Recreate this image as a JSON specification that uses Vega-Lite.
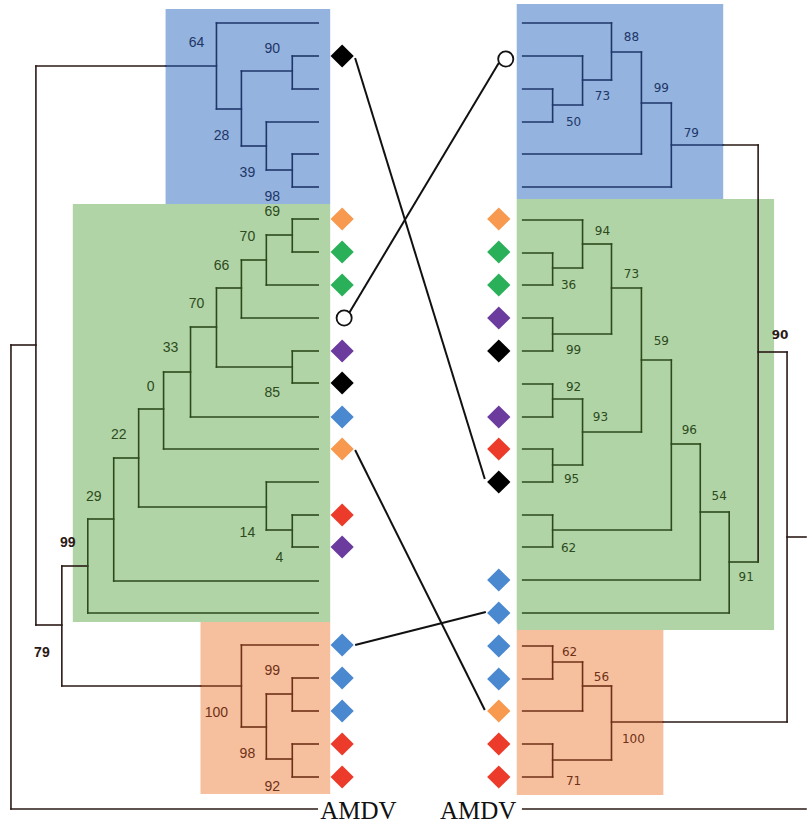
{
  "$schema": "https://vega.github.io/schema/vega-lite/v6.json",
  "width": 808,
  "height": 827,
  "autosize": {"type": "fit", "contains": "padding"},
  "padding": 0,
  "background": "white",
  "config": {"view": {"stroke": null}},
  "datasets": {
    "boxes": [
      {"x": 166, "x2": 331, "y": 9, "y2": 204, "k": "boxB"},
      {"x": 73, "x2": 331, "y": 204, "y2": 622, "k": "boxG"},
      {"x": 201, "x2": 331, "y": 622, "y2": 794, "k": "boxO"},
      {"x": 518, "x2": 725, "y": 4, "y2": 199, "k": "boxB"},
      {"x": 518, "x2": 776, "y": 199, "y2": 630, "k": "boxG"},
      {"x": 518, "x2": 665, "y": 630, "y2": 795, "k": "boxO"}
    ],
    "segs": [
      {"x": 11, "y": 345, "x2": 11, "y2": 809, "k": "K"},
      {"x": 11, "y": 809, "x2": 318, "y2": 809, "k": "K"},
      {"x": 11, "y": 345, "x2": 36, "y2": 345, "k": "K"},
      {"x": 36, "y": 66, "x2": 36, "y2": 625, "k": "K"},
      {"x": 36, "y": 66, "x2": 166, "y2": 66, "k": "K"},
      {"x": 166, "y": 66, "x2": 217, "y2": 66, "k": "B"},
      {"x": 36, "y": 625, "x2": 62, "y2": 625, "k": "K"},
      {"x": 62, "y": 566, "x2": 62, "y2": 686, "k": "K"},
      {"x": 62, "y": 566, "x2": 88, "y2": 566, "k": "K"},
      {"x": 62, "y": 686, "x2": 201, "y2": 686, "k": "K"},
      {"x": 201, "y": 686, "x2": 242, "y2": 686, "k": "O"},

      {"x": 217, "y": 23, "x2": 217, "y2": 109, "k": "B"},
      {"x": 217, "y": 23, "x2": 319, "y2": 23, "k": "B"},
      {"x": 217, "y": 109, "x2": 242, "y2": 109, "k": "B"},
      {"x": 242, "y": 71, "x2": 242, "y2": 146, "k": "B"},
      {"x": 242, "y": 71, "x2": 293, "y2": 71, "k": "B"},
      {"x": 293, "y": 56, "x2": 293, "y2": 89, "k": "B"},
      {"x": 293, "y": 56, "x2": 319, "y2": 56, "k": "B"},
      {"x": 293, "y": 89, "x2": 319, "y2": 89, "k": "B"},
      {"x": 242, "y": 146, "x2": 267, "y2": 146, "k": "B"},
      {"x": 267, "y": 122, "x2": 267, "y2": 170, "k": "B"},
      {"x": 267, "y": 122, "x2": 319, "y2": 122, "k": "B"},
      {"x": 267, "y": 170, "x2": 293, "y2": 170, "k": "B"},
      {"x": 293, "y": 154, "x2": 293, "y2": 187, "k": "B"},
      {"x": 293, "y": 154, "x2": 319, "y2": 154, "k": "B"},
      {"x": 293, "y": 187, "x2": 319, "y2": 187, "k": "B"},

      {"x": 88, "y": 519, "x2": 88, "y2": 613, "k": "G"},
      {"x": 88, "y": 613, "x2": 319, "y2": 613, "k": "G"},
      {"x": 88, "y": 519, "x2": 114, "y2": 519, "k": "G"},
      {"x": 114, "y": 458, "x2": 114, "y2": 581, "k": "G"},
      {"x": 114, "y": 581, "x2": 319, "y2": 581, "k": "G"},
      {"x": 114, "y": 458, "x2": 139, "y2": 458, "k": "G"},
      {"x": 139, "y": 409, "x2": 139, "y2": 507, "k": "G"},
      {"x": 139, "y": 409, "x2": 164, "y2": 409, "k": "G"},
      {"x": 164, "y": 372, "x2": 164, "y2": 449, "k": "G"},
      {"x": 164, "y": 449, "x2": 319, "y2": 449, "k": "G"},
      {"x": 164, "y": 372, "x2": 191, "y2": 372, "k": "G"},
      {"x": 191, "y": 327, "x2": 191, "y2": 417, "k": "G"},
      {"x": 191, "y": 417, "x2": 319, "y2": 417, "k": "G"},
      {"x": 191, "y": 327, "x2": 217, "y2": 327, "k": "G"},
      {"x": 217, "y": 288, "x2": 217, "y2": 367, "k": "G"},
      {"x": 217, "y": 367, "x2": 293, "y2": 367, "k": "G"},
      {"x": 293, "y": 351, "x2": 293, "y2": 383, "k": "G"},
      {"x": 293, "y": 351, "x2": 319, "y2": 351, "k": "G"},
      {"x": 293, "y": 383, "x2": 319, "y2": 383, "k": "G"},
      {"x": 217, "y": 288, "x2": 242, "y2": 288, "k": "G"},
      {"x": 242, "y": 260, "x2": 242, "y2": 318, "k": "G"},
      {"x": 242, "y": 318, "x2": 319, "y2": 318, "k": "G"},
      {"x": 242, "y": 260, "x2": 267, "y2": 260, "k": "G"},
      {"x": 267, "y": 235, "x2": 267, "y2": 285, "k": "G"},
      {"x": 267, "y": 285, "x2": 319, "y2": 285, "k": "G"},
      {"x": 267, "y": 235, "x2": 293, "y2": 235, "k": "G"},
      {"x": 293, "y": 219, "x2": 293, "y2": 252, "k": "G"},
      {"x": 293, "y": 219, "x2": 319, "y2": 219, "k": "G"},
      {"x": 293, "y": 252, "x2": 319, "y2": 252, "k": "G"},
      {"x": 139, "y": 507, "x2": 267, "y2": 507, "k": "G"},
      {"x": 267, "y": 482, "x2": 267, "y2": 530, "k": "G"},
      {"x": 267, "y": 482, "x2": 319, "y2": 482, "k": "G"},
      {"x": 267, "y": 530, "x2": 293, "y2": 530, "k": "G"},
      {"x": 293, "y": 515, "x2": 293, "y2": 547, "k": "G"},
      {"x": 293, "y": 515, "x2": 319, "y2": 515, "k": "G"},
      {"x": 293, "y": 547, "x2": 319, "y2": 547, "k": "G"},

      {"x": 242, "y": 645, "x2": 242, "y2": 727, "k": "O"},
      {"x": 242, "y": 645, "x2": 319, "y2": 645, "k": "O"},
      {"x": 242, "y": 727, "x2": 267, "y2": 727, "k": "O"},
      {"x": 267, "y": 694, "x2": 267, "y2": 759, "k": "O"},
      {"x": 267, "y": 694, "x2": 293, "y2": 694, "k": "O"},
      {"x": 293, "y": 678, "x2": 293, "y2": 711, "k": "O"},
      {"x": 293, "y": 678, "x2": 319, "y2": 678, "k": "O"},
      {"x": 293, "y": 711, "x2": 319, "y2": 711, "k": "O"},
      {"x": 267, "y": 759, "x2": 293, "y2": 759, "k": "O"},
      {"x": 293, "y": 744, "x2": 293, "y2": 777, "k": "O"},
      {"x": 293, "y": 744, "x2": 319, "y2": 744, "k": "O"},
      {"x": 293, "y": 777, "x2": 319, "y2": 777, "k": "O"},

      {"x": 524, "y": 809, "x2": 808, "y2": 809, "k": "K"},
      {"x": 725, "y": 145, "x2": 760, "y2": 145, "k": "K"},
      {"x": 760, "y": 145, "x2": 760, "y2": 562, "k": "K"},
      {"x": 760, "y": 352, "x2": 789, "y2": 352, "k": "K"},
      {"x": 789, "y": 352, "x2": 789, "y2": 722, "k": "K"},
      {"x": 789, "y": 537, "x2": 808, "y2": 537, "k": "K"},
      {"x": 665, "y": 722, "x2": 789, "y2": 722, "k": "K"},

      {"x": 524, "y": 23, "x2": 613, "y2": 23, "k": "B"},
      {"x": 613, "y": 23, "x2": 613, "y2": 80, "k": "B"},
      {"x": 524, "y": 56, "x2": 584, "y2": 56, "k": "B"},
      {"x": 584, "y": 56, "x2": 584, "y2": 105, "k": "B"},
      {"x": 524, "y": 89, "x2": 554, "y2": 89, "k": "B"},
      {"x": 524, "y": 122, "x2": 554, "y2": 122, "k": "B"},
      {"x": 554, "y": 89, "x2": 554, "y2": 122, "k": "B"},
      {"x": 554, "y": 105, "x2": 584, "y2": 105, "k": "B"},
      {"x": 584, "y": 80, "x2": 613, "y2": 80, "k": "B"},
      {"x": 613, "y": 52, "x2": 643, "y2": 52, "k": "B"},
      {"x": 643, "y": 52, "x2": 643, "y2": 154, "k": "B"},
      {"x": 524, "y": 154, "x2": 643, "y2": 154, "k": "B"},
      {"x": 643, "y": 103, "x2": 673, "y2": 103, "k": "B"},
      {"x": 673, "y": 103, "x2": 673, "y2": 187, "k": "B"},
      {"x": 524, "y": 187, "x2": 673, "y2": 187, "k": "B"},
      {"x": 673, "y": 145, "x2": 725, "y2": 145, "k": "B"},

      {"x": 524, "y": 220, "x2": 584, "y2": 220, "k": "G"},
      {"x": 584, "y": 220, "x2": 584, "y2": 268, "k": "G"},
      {"x": 524, "y": 253, "x2": 554, "y2": 253, "k": "G"},
      {"x": 524, "y": 285, "x2": 554, "y2": 285, "k": "G"},
      {"x": 554, "y": 253, "x2": 554, "y2": 285, "k": "G"},
      {"x": 554, "y": 268, "x2": 584, "y2": 268, "k": "G"},
      {"x": 584, "y": 244, "x2": 613, "y2": 244, "k": "G"},
      {"x": 613, "y": 244, "x2": 613, "y2": 334, "k": "G"},
      {"x": 524, "y": 318, "x2": 554, "y2": 318, "k": "G"},
      {"x": 524, "y": 351, "x2": 554, "y2": 351, "k": "G"},
      {"x": 554, "y": 318, "x2": 554, "y2": 351, "k": "G"},
      {"x": 554, "y": 334, "x2": 613, "y2": 334, "k": "G"},
      {"x": 613, "y": 288, "x2": 643, "y2": 288, "k": "G"},
      {"x": 643, "y": 288, "x2": 643, "y2": 432, "k": "G"},
      {"x": 524, "y": 384, "x2": 554, "y2": 384, "k": "G"},
      {"x": 524, "y": 417, "x2": 554, "y2": 417, "k": "G"},
      {"x": 554, "y": 384, "x2": 554, "y2": 417, "k": "G"},
      {"x": 554, "y": 399, "x2": 584, "y2": 399, "k": "G"},
      {"x": 584, "y": 399, "x2": 584, "y2": 465, "k": "G"},
      {"x": 524, "y": 449, "x2": 554, "y2": 449, "k": "G"},
      {"x": 524, "y": 482, "x2": 554, "y2": 482, "k": "G"},
      {"x": 554, "y": 449, "x2": 554, "y2": 482, "k": "G"},
      {"x": 554, "y": 465, "x2": 584, "y2": 465, "k": "G"},
      {"x": 584, "y": 432, "x2": 643, "y2": 432, "k": "G"},
      {"x": 643, "y": 360, "x2": 673, "y2": 360, "k": "G"},
      {"x": 673, "y": 360, "x2": 673, "y2": 530, "k": "G"},
      {"x": 524, "y": 515, "x2": 554, "y2": 515, "k": "G"},
      {"x": 524, "y": 547, "x2": 554, "y2": 547, "k": "G"},
      {"x": 554, "y": 515, "x2": 554, "y2": 547, "k": "G"},
      {"x": 554, "y": 530, "x2": 673, "y2": 530, "k": "G"},
      {"x": 673, "y": 444, "x2": 702, "y2": 444, "k": "G"},
      {"x": 702, "y": 444, "x2": 702, "y2": 580, "k": "G"},
      {"x": 524, "y": 580, "x2": 702, "y2": 580, "k": "G"},
      {"x": 702, "y": 512, "x2": 731, "y2": 512, "k": "G"},
      {"x": 731, "y": 512, "x2": 731, "y2": 613, "k": "G"},
      {"x": 524, "y": 613, "x2": 731, "y2": 613, "k": "G"},
      {"x": 731, "y": 562, "x2": 760, "y2": 562, "k": "G"},

      {"x": 524, "y": 646, "x2": 554, "y2": 646, "k": "O"},
      {"x": 524, "y": 679, "x2": 554, "y2": 679, "k": "O"},
      {"x": 554, "y": 646, "x2": 554, "y2": 679, "k": "O"},
      {"x": 554, "y": 662, "x2": 584, "y2": 662, "k": "O"},
      {"x": 584, "y": 662, "x2": 584, "y2": 711, "k": "O"},
      {"x": 524, "y": 711, "x2": 584, "y2": 711, "k": "O"},
      {"x": 584, "y": 686, "x2": 613, "y2": 686, "k": "O"},
      {"x": 613, "y": 686, "x2": 613, "y2": 760, "k": "O"},
      {"x": 524, "y": 744, "x2": 554, "y2": 744, "k": "O"},
      {"x": 524, "y": 777, "x2": 554, "y2": 777, "k": "O"},
      {"x": 554, "y": 744, "x2": 554, "y2": 777, "k": "O"},
      {"x": 554, "y": 760, "x2": 613, "y2": 760, "k": "O"},
      {"x": 613, "y": 722, "x2": 665, "y2": 722, "k": "O"}
    ],
    "links": [
      {"x": 356, "y": 58, "x2": 486, "y2": 479},
      {"x": 350, "y": 313, "x2": 500, "y2": 63},
      {"x": 356, "y": 450, "x2": 486, "y2": 710},
      {"x": 356, "y": 645, "x2": 487, "y2": 612}
    ],
    "tips": [
      {"x": 343, "y": 56, "k": "black"},
      {"x": 343, "y": 219, "k": "orange"},
      {"x": 343, "y": 252, "k": "green"},
      {"x": 343, "y": 285, "k": "green"},
      {"x": 343, "y": 351, "k": "purple"},
      {"x": 343, "y": 383, "k": "black"},
      {"x": 343, "y": 417, "k": "blue"},
      {"x": 343, "y": 449, "k": "orange"},
      {"x": 343, "y": 515, "k": "red"},
      {"x": 343, "y": 547, "k": "purple"},
      {"x": 343, "y": 645, "k": "blue"},
      {"x": 343, "y": 678, "k": "blue"},
      {"x": 343, "y": 711, "k": "blue"},
      {"x": 343, "y": 744, "k": "red"},
      {"x": 343, "y": 777, "k": "red"},
      {"x": 500, "y": 219, "k": "orange"},
      {"x": 500, "y": 252, "k": "green"},
      {"x": 500, "y": 285, "k": "green"},
      {"x": 500, "y": 318, "k": "purple"},
      {"x": 500, "y": 351, "k": "black"},
      {"x": 500, "y": 417, "k": "purple"},
      {"x": 500, "y": 449, "k": "red"},
      {"x": 500, "y": 482, "k": "black"},
      {"x": 500, "y": 580, "k": "blue"},
      {"x": 500, "y": 613, "k": "blue"},
      {"x": 500, "y": 646, "k": "blue"},
      {"x": 500, "y": 679, "k": "blue"},
      {"x": 500, "y": 711, "k": "orange"},
      {"x": 500, "y": 744, "k": "red"},
      {"x": 500, "y": 777, "k": "red"}
    ],
    "circles": [
      {"x": 345, "y": 318},
      {"x": 507, "y": 59}
    ],
    "labelsL": [
      {"x": 197, "y": 43, "t": "64", "k": "B"},
      {"x": 273, "y": 49, "t": "90", "k": "B"},
      {"x": 222, "y": 136, "t": "28", "k": "B"},
      {"x": 248, "y": 173, "t": "39", "k": "B"},
      {"x": 273, "y": 197, "t": "98", "k": "B"},
      {"x": 273, "y": 212, "t": "69", "k": "G"},
      {"x": 248, "y": 237, "t": "70", "k": "G"},
      {"x": 222, "y": 266, "t": "66", "k": "G"},
      {"x": 197, "y": 304, "t": "70", "k": "G"},
      {"x": 171, "y": 348, "t": "33", "k": "G"},
      {"x": 151, "y": 387, "t": "0", "k": "G"},
      {"x": 273, "y": 393, "t": "85", "k": "G"},
      {"x": 119, "y": 435, "t": "22", "k": "G"},
      {"x": 94, "y": 497, "t": "29", "k": "G"},
      {"x": 248, "y": 533, "t": "14", "k": "G"},
      {"x": 280, "y": 558, "t": "4", "k": "G"},
      {"x": 68, "y": 543, "t": "99", "k": "K"},
      {"x": 42, "y": 653, "t": "79", "k": "K"},
      {"x": 273, "y": 671, "t": "99", "k": "O"},
      {"x": 217, "y": 713, "t": "100", "k": "O"},
      {"x": 248, "y": 754, "t": "98", "k": "O"},
      {"x": 273, "y": 787, "t": "92", "k": "O"}
    ],
    "labelsR": [
      {"x": 633, "y": 37, "t": "88", "k": "B"},
      {"x": 604, "y": 96, "t": "73", "k": "B"},
      {"x": 575, "y": 122, "t": "50", "k": "B"},
      {"x": 663, "y": 88, "t": "99", "k": "B"},
      {"x": 693, "y": 133, "t": "79", "k": "B"},
      {"x": 604, "y": 231, "t": "94", "k": "G"},
      {"x": 570, "y": 285, "t": "36", "k": "G"},
      {"x": 633, "y": 274, "t": "73", "k": "G"},
      {"x": 575, "y": 350, "t": "99", "k": "G"},
      {"x": 663, "y": 341, "t": "59", "k": "G"},
      {"x": 575, "y": 387, "t": "92", "k": "G"},
      {"x": 602, "y": 417, "t": "93", "k": "G"},
      {"x": 573, "y": 479, "t": "95", "k": "G"},
      {"x": 691, "y": 430, "t": "96", "k": "G"},
      {"x": 570, "y": 548, "t": "62", "k": "G"},
      {"x": 721, "y": 496, "t": "54", "k": "G"},
      {"x": 748, "y": 577, "t": "91", "k": "G"},
      {"x": 782, "y": 335, "t": "90", "k": "K"},
      {"x": 571, "y": 652, "t": "62", "k": "O"},
      {"x": 603, "y": 677, "t": "56", "k": "O"},
      {"x": 635, "y": 739, "t": "100", "k": "O"},
      {"x": 575, "y": 781, "t": "71", "k": "O"}
    ],
    "roots": [
      {"x": 321, "y": 819, "t": "AMDV"},
      {"x": 441, "y": 819, "t": "AMDV"}
    ]
  },
  "layer": [
    {
      "data": {"name": "boxes"},
      "mark": {"type": "rect", "opacity": 1},
      "encoding": {
        "x": {"field": "x", "type": "quantitative", "scale": {"domain": [0, 808], "nice": false, "zero": false}, "axis": null},
        "x2": {"field": "x2"},
        "y": {"field": "y", "type": "quantitative", "scale": {"domain": [0, 827], "nice": false, "zero": false, "reverse": true}, "axis": null},
        "y2": {"field": "y2"},
        "color": {"field": "k", "type": "nominal", "legend": null,
          "scale": {
            "domain": ["boxB", "boxG", "boxO", "B", "G", "O", "K", "orange", "green", "purple", "black", "blue", "red"],
            "range": ["#94b3de", "#b1d4a6", "#f6bf9d", "#1e3668", "#2c4a1c", "#6e3117", "#2a1a16", "#f7994e", "#2bb05a", "#6b3b9e", "#000000", "#4a88cf", "#ec3b2b"]
          }}
      }
    },
    {
      "data": {"name": "segs"},
      "mark": {"type": "rule", "strokeWidth": 1.6, "strokeCap": "square"},
      "encoding": {
        "x": {"field": "x", "type": "quantitative"},
        "x2": {"field": "x2"},
        "y": {"field": "y", "type": "quantitative"},
        "y2": {"field": "y2"},
        "color": {"field": "k", "type": "nominal", "legend": null}
      }
    },
    {
      "data": {"name": "links"},
      "mark": {"type": "rule", "strokeWidth": 2, "color": "#111111"},
      "encoding": {
        "x": {"field": "x", "type": "quantitative"},
        "x2": {"field": "x2"},
        "y": {"field": "y", "type": "quantitative"},
        "y2": {"field": "y2"}
      }
    },
    {
      "data": {"name": "tips"},
      "mark": {"type": "point", "shape": "diamond", "filled": true, "opacity": 1, "size": 540, "strokeWidth": 0},
      "encoding": {
        "x": {"field": "x", "type": "quantitative"},
        "y": {"field": "y", "type": "quantitative"},
        "color": {"field": "k", "type": "nominal", "legend": null}
      }
    },
    {
      "data": {"name": "circles"},
      "mark": {"type": "point", "shape": "circle", "filled": true, "fill": "white", "stroke": "#111111", "strokeWidth": 1.8, "opacity": 1, "size": 230},
      "encoding": {
        "x": {"field": "x", "type": "quantitative"},
        "y": {"field": "y", "type": "quantitative"}
      }
    },
    {
      "data": {"name": "labelsL"},
      "transform": [{"filter": "datum.k !== 'K'"}],
      "mark": {"type": "text", "font": "Liberation Sans", "fontSize": 14, "align": "center", "baseline": "middle"},
      "encoding": {
        "x": {"field": "x", "type": "quantitative"},
        "y": {"field": "y", "type": "quantitative"},
        "text": {"field": "t"},
        "color": {"field": "k", "type": "nominal", "legend": null}
      }
    },
    {
      "data": {"name": "labelsL"},
      "transform": [{"filter": "datum.k === 'K'"}],
      "mark": {"type": "text", "font": "Liberation Sans", "fontSize": 14, "fontWeight": "bold", "align": "center", "baseline": "middle"},
      "encoding": {
        "x": {"field": "x", "type": "quantitative"},
        "y": {"field": "y", "type": "quantitative"},
        "text": {"field": "t"},
        "color": {"field": "k", "type": "nominal", "legend": null}
      }
    },
    {
      "data": {"name": "labelsR"},
      "transform": [{"filter": "datum.k !== 'K'"}],
      "mark": {"type": "text", "font": "DejaVu Sans", "fontSize": 12, "align": "center", "baseline": "middle"},
      "encoding": {
        "x": {"field": "x", "type": "quantitative"},
        "y": {"field": "y", "type": "quantitative"},
        "text": {"field": "t"},
        "color": {"field": "k", "type": "nominal", "legend": null}
      }
    },
    {
      "data": {"name": "labelsR"},
      "transform": [{"filter": "datum.k === 'K'"}],
      "mark": {"type": "text", "font": "DejaVu Sans", "fontSize": 12, "fontWeight": "bold", "align": "center", "baseline": "middle"},
      "encoding": {
        "x": {"field": "x", "type": "quantitative"},
        "y": {"field": "y", "type": "quantitative"},
        "text": {"field": "t"},
        "color": {"field": "k", "type": "nominal", "legend": null}
      }
    },
    {
      "data": {"name": "roots"},
      "mark": {"type": "text", "font": "Liberation Serif", "fontSize": 25, "align": "left", "baseline": "alphabetic", "color": "#111111"},
      "encoding": {
        "x": {"field": "x", "type": "quantitative"},
        "y": {"field": "y", "type": "quantitative"},
        "text": {"field": "t"}
      }
    }
  ]
}
